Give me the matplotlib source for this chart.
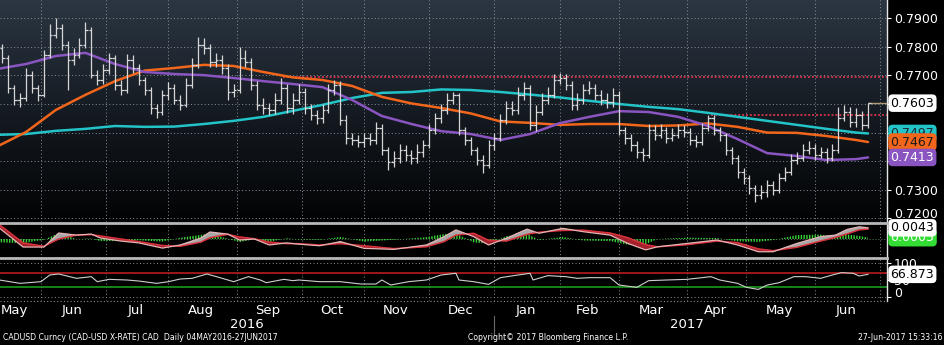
import numpy as np
import pandas as pd
import matplotlib
matplotlib.use("Agg")
import matplotlib.pyplot as plt
from matplotlib.collections import LineCollection
from matplotlib.colors import LinearSegmentedColormap

# x axis runs in weekday sessions, session 0 = 12 May 2016
SESSION0 = "2016-05-12"

# two-session OHLC bars (CAD-USD)
first_open = 0.7780
closes = [
    0.7796, 0.7761, 0.7656, 0.7614, 0.7621, 0.7702, 0.7656, 0.7632, 0.7772, 0.7842,
    0.7866, 0.7807, 0.7754, 0.7772, 0.7807, 0.7859, 0.7702, 0.7684, 0.7719, 0.7761,
    0.7667, 0.7649, 0.7754, 0.7726, 0.7684, 0.7649, 0.7586, 0.7572, 0.7632, 0.7656,
    0.7614, 0.7597, 0.7667, 0.7737, 0.7807, 0.7796, 0.7747, 0.7754, 0.7726, 0.7642,
    0.7649, 0.7761, 0.7747, 0.7667, 0.7597, 0.7586, 0.7579, 0.7614, 0.7656, 0.7586,
    0.7614, 0.7642, 0.7586, 0.7562, 0.7551, 0.7579, 0.7649, 0.7667, 0.7544, 0.7481,
    0.7474, 0.7467, 0.7481, 0.7474, 0.7516, 0.7439, 0.7397, 0.7411, 0.7439, 0.7422,
    0.7411, 0.7432, 0.7457, 0.7509, 0.7551, 0.7579, 0.7614, 0.7632, 0.7509, 0.7474,
    0.7439, 0.7404, 0.7387, 0.7457, 0.7481, 0.7544, 0.7586, 0.7579, 0.7632, 0.7656,
    0.7527, 0.7572, 0.7614, 0.7632, 0.7684, 0.7691, 0.7667, 0.7597, 0.7614, 0.7649,
    0.7656, 0.7632, 0.7614, 0.7607, 0.7632, 0.7509, 0.7481, 0.7457, 0.7432, 0.7422,
    0.7509, 0.7492, 0.7509, 0.7481, 0.7492, 0.7509, 0.7502, 0.7474, 0.7467, 0.7516,
    0.7551, 0.7509, 0.7492, 0.7439, 0.7411, 0.7362, 0.7341, 0.7306, 0.7282, 0.7292,
    0.7317, 0.7299, 0.7341, 0.7362, 0.7404, 0.7411, 0.7439, 0.7446, 0.7422, 0.7432,
    0.7411, 0.7439, 0.7551, 0.7572, 0.7537, 0.7562, 0.7527, 0.7603,
]
highs = [
    0.7824, 0.7810, 0.7772, 0.7668, 0.7640, 0.7726, 0.7715, 0.7668, 0.7790, 0.7880,
    0.7901, 0.7880, 0.7820, 0.7795, 0.7830, 0.7887, 0.7870, 0.7720, 0.7740, 0.7780,
    0.7772, 0.7685, 0.7775, 0.7770, 0.7740, 0.7695, 0.7660, 0.7600, 0.7650, 0.7678,
    0.7670, 0.7630, 0.7690, 0.7760, 0.7834, 0.7830, 0.7810, 0.7780, 0.7770, 0.7740,
    0.7670, 0.7800, 0.7790, 0.7760, 0.7680, 0.7620, 0.7605, 0.7640, 0.7690, 0.7670,
    0.7640, 0.7670, 0.7655, 0.7600, 0.7580, 0.7600, 0.7670, 0.7685, 0.7680, 0.7560,
    0.7500, 0.7490, 0.7500, 0.7500, 0.7537, 0.7530, 0.7450, 0.7435, 0.7460, 0.7455,
    0.7440, 0.7460, 0.7475, 0.7530, 0.7570, 0.7600, 0.7640, 0.7642, 0.7640, 0.7520,
    0.7485, 0.7450, 0.7420, 0.7475, 0.7500, 0.7565, 0.7610, 0.7610, 0.7660, 0.7677,
    0.7665, 0.7595, 0.7640, 0.7660, 0.7705, 0.7709, 0.7705, 0.7680, 0.7640, 0.7670,
    0.7680, 0.7670, 0.7650, 0.7640, 0.7655, 0.7645, 0.7520, 0.7495, 0.7470, 0.7445,
    0.7530, 0.7525, 0.7530, 0.7520, 0.7515, 0.7530, 0.7525, 0.7515, 0.7490, 0.7535,
    0.7562, 0.7560, 0.7520, 0.7500, 0.7450, 0.7420, 0.7375, 0.7350, 0.7315, 0.7315,
    0.7335, 0.7330, 0.7360, 0.7380, 0.7425, 0.7432, 0.7460, 0.7470, 0.7460, 0.7450,
    0.7445, 0.7460, 0.7590, 0.7595, 0.7590, 0.7585, 0.7575, 0.7603,
]
lows = [
    0.7760, 0.7745, 0.7640, 0.7596, 0.7590, 0.7610, 0.7640, 0.7612, 0.7625, 0.7760,
    0.7830, 0.7790, 0.7649, 0.7735, 0.7760, 0.7795, 0.7690, 0.7665, 0.7670, 0.7705,
    0.7650, 0.7630, 0.7640, 0.7710, 0.7665, 0.7630, 0.7565, 0.7551, 0.7560, 0.7615,
    0.7600, 0.7579, 0.7590, 0.7655, 0.7725, 0.7775, 0.7730, 0.7730, 0.7705, 0.7614,
    0.7625, 0.7640, 0.7730, 0.7650, 0.7580, 0.7565, 0.7560, 0.7565, 0.7600, 0.7570,
    0.7565, 0.7600, 0.7565, 0.7545, 0.7530, 0.7535, 0.7570, 0.7630, 0.7525, 0.7460,
    0.7455, 0.7448, 0.7450, 0.7455, 0.7460, 0.7420, 0.7369, 0.7380, 0.7395, 0.7400,
    0.7390, 0.7395, 0.7415, 0.7445, 0.7495, 0.7535, 0.7565, 0.7600, 0.7490, 0.7455,
    0.7420, 0.7385, 0.7359, 0.7375, 0.7440, 0.7470, 0.7530, 0.7560, 0.7565, 0.7615,
    0.7510, 0.7505, 0.7560, 0.7600, 0.7620, 0.7670, 0.7650, 0.7580, 0.7580, 0.7600,
    0.7635, 0.7615, 0.7595, 0.7585, 0.7590, 0.7490, 0.7460, 0.7435, 0.7410, 0.7400,
    0.7410, 0.7475, 0.7480, 0.7465, 0.7470, 0.7480, 0.7485, 0.7455, 0.7450, 0.7455,
    0.7505, 0.7490, 0.7470, 0.7420, 0.7390, 0.7340, 0.7320, 0.7285, 0.7257, 0.7268,
    0.7275, 0.7280, 0.7290, 0.7330, 0.7350, 0.7390, 0.7400, 0.7425, 0.7405, 0.7410,
    0.7395, 0.7400, 0.7430, 0.7540, 0.7520, 0.7520, 0.7510, 0.7515,
]

# moving averages, sampled every 10 sessions
ma_days = list(range(-1, 290, 10)) + [293]
ma50 = [0.7722, 0.7740, 0.7768, 0.7779, 0.7740, 0.7712, 0.7705, 0.7701, 0.7691, 0.7680,
        0.7670, 0.7659, 0.7614, 0.7558, 0.7530, 0.7505, 0.7495, 0.7474, 0.7495, 0.7533,
        0.7555, 0.7575, 0.7572, 0.7555, 0.7523, 0.7477, 0.7428, 0.7418, 0.7404, 0.7407,
        0.7413]
ma100 = [0.7450, 0.7502, 0.7579, 0.7632, 0.7680, 0.7717, 0.7726, 0.7737, 0.7733, 0.7712,
         0.7693, 0.7684, 0.7663, 0.7625, 0.7602, 0.7586, 0.7567, 0.7539, 0.7534, 0.7527,
         0.7530, 0.7530, 0.7523, 0.7525, 0.7532, 0.7520, 0.7500, 0.7499, 0.7488, 0.7474,
         0.7467]
ma200 = [0.7492, 0.7495, 0.7506, 0.7513, 0.7523, 0.7520, 0.7521, 0.7530, 0.7541, 0.7555,
         0.7576, 0.7597, 0.7621, 0.7639, 0.7642, 0.7651, 0.7649, 0.7642, 0.7633, 0.7623,
         0.7611, 0.7600, 0.7590, 0.7582, 0.7569, 0.7555, 0.7541, 0.7527, 0.7513, 0.7500,
         0.7497]

# MACD and signal
macd_days = [0, 8, 15, 20, 26, 31, 34, 41, 47, 55, 61, 68, 71, 77, 81, 86, 91, 97, 101, 108,
             115, 123, 133, 144, 150, 154, 160, 165, 171, 178, 182, 190, 197, 206, 212, 218,
             222, 232, 242, 249, 256, 261, 269, 277, 282, 286, 290, 293]
macd = [0.0042, -0.0031, -0.0031, 0.0023, 0.0015, 0.0019, 0.0004, -0.0008, -0.0015, -0.0035,
        -0.0023, 0.0004, 0.0027, 0.0019, -0.0004, 0.0000, -0.0023, -0.0015, -0.0020, -0.0026,
        -0.0010, -0.0036, -0.0040, -0.0023, 0.0009, 0.0035, 0.0009, -0.0023, 0.0003, 0.0038,
        0.0022, 0.0041, 0.0028, 0.0015, -0.0017, -0.0042, -0.0030, -0.0017, -0.0004, -0.0023,
        -0.0049, -0.0049, -0.0017, 0.0009, 0.0015, 0.0037, 0.0047, 0.0043]
signal = [0.0055, -0.0015, -0.0028, 0.0000, 0.0015, 0.0017, 0.0012, 0.0000, -0.0010, -0.0025,
          -0.0028, -0.0012, 0.0005, 0.0018, 0.0008, 0.0001, -0.0012, -0.0018, -0.0018, -0.0023,
          -0.0018, -0.0026, -0.0037, -0.0030, -0.0010, 0.0015, 0.0022, -0.0005, -0.0008, 0.0018,
          0.0026, 0.0033, 0.0034, 0.0023, 0.0005, -0.0022, -0.0030, -0.0022, -0.0008, -0.0014,
          -0.0038, -0.0045, -0.0032, -0.0008, 0.0006, 0.0020, 0.0035, 0.0038]

# RSI
rsi_days = [0, 7, 14, 17, 20, 26, 31, 33, 37, 43, 47, 53, 57, 61, 65, 70, 74, 79, 84, 88,
            90, 96, 99, 101, 108, 115, 122, 127, 129, 132, 138, 144, 149, 154, 155, 160, 165,
            169, 175, 179, 180, 185, 191, 195, 199, 206, 209, 215, 219, 225, 232, 240, 243,
            249, 252, 256, 259, 263, 268, 272, 277, 281, 284, 288, 290, 293]
rsi = [50, 40, 45, 65, 68, 55, 60, 45, 52, 50, 47, 40, 45, 53, 55, 68, 58, 45, 60, 50,
       42, 52, 48, 50, 45, 45, 38, 38, 50, 35, 45, 50, 65, 70, 50, 45, 37, 57, 65, 70,
       50, 63, 60, 55, 57, 57, 35, 28, 48, 50, 52, 60, 50, 40, 28, 22, 35, 42, 60, 60,
       55, 65, 72, 70, 62, 66.873]

last_price = 0.7603
# (start session, level) of the dotted red reference lines
levels = [(95.6, 0.7693), (240, 0.7562)]

W, H = 944, 345
XLIM = (0.2, 299.4)

C_PURPLE = "#8a55c0"
C_ORANGE = "#f2661b"
C_CYAN = "#22c4c8"
C_GRID = "#8a9098"


def rect(x0, y0, x1, y1):
    return [x0 / W, 1 - y1 / H, (x1 - x0) / W, (y1 - y0) / H]


# weekday calendar for month boundaries
cal = pd.bdate_range("2016-05-02", "2017-07-31")
origin = cal.get_loc(pd.Timestamp(SESSION0))
months = pd.date_range("2016-05-01", "2017-07-01", freq="MS")
month_pos = [int(np.searchsorted(cal, m)) - origin for m in months]

fig = plt.figure(figsize=(W / 100, H / 100), dpi=100)
fig.patch.set_facecolor("black")

ax = fig.add_axes(rect(0, 0, 887, 221.5))
ax_m = fig.add_axes(rect(0, 223.3, 887, 257.5), sharex=ax)
ax_r = fig.add_axes(rect(0, 257.5, 887, 301), sharex=ax)

YLIM = (0.71888, 0.7964)
MLIM = (-0.00712, 0.00604)
RLIM = (-12.7, 117.2)

for a in (ax, ax_m, ax_r):
    a.set_facecolor("black")
    for s in ("top", "left", "bottom"):
        a.spines[s].set_visible(False)
    a.spines["right"].set_color("#e6e6e6")
    a.spines["right"].set_linewidth(1.0)
    a.yaxis.tick_right()
    a.tick_params(axis="y", colors="white", labelcolor="white", labelsize=9,
                  length=3, width=0.8, pad=2, direction="out")
    a.tick_params(axis="x", bottom=False, labelbottom=False)
    for mp in month_pos[1:]:
        a.axvline(mp, color=C_GRID, lw=0.7, ls=(0, (1, 2.5)), zorder=1)

# main panel: dark slate gradient
cmap = LinearSegmentedColormap.from_list("bg", ["#2b3642", "#151b22", "#020304"])
grad = np.linspace(0, 1, 256).reshape(-1, 1)
ax.imshow(grad, cmap=cmap, extent=[XLIM[0], XLIM[1], YLIM[0], YLIM[1]],
          aspect="auto", origin="upper", zorder=0)

for lvl in np.arange(0.72, 0.7901, 0.01):
    ax.axhline(lvl, color=C_GRID, lw=0.7, ls=(0, (1, 2.5)), zorder=1)

for start, lvl in levels:
    ax.hlines(lvl, start, XLIM[1], color="#c8324a", lw=1.4, ls=(0, (1, 1)), zorder=2)

# OHLC bars
n = len(closes)
bx = np.arange(n) * 2 - 1
opens = [first_open] + closes[:-1]
segs = []
for x, o, h, l, c in zip(bx, opens, highs, lows, closes):
    segs.append([(x, l), (x, h)])
    segs.append([(x - 0.9, o), (x, o)])
    segs.append([(x, c), (x + 0.9, c)])
ax.add_collection(LineCollection(segs, colors="#d6d6d6", linewidths=0.9, zorder=4))

for vals, col in ((ma200, C_CYAN), (ma100, C_ORANGE), (ma50, C_PURPLE)):
    ax.plot(ma_days, vals, color=col, lw=1.8, zorder=3,
            solid_joinstyle="round", solid_capstyle="round")

ax.hlines(last_price, bx[-1], XLIM[1], color="#b09a78", lw=1.0, zorder=3)

ax.set_xlim(*XLIM)
ax.set_ylim(*YLIM)
yt = np.round(np.arange(0.72, 0.7901, 0.01), 2)
ax.set_yticks(yt)
# labels at 0.74-0.76 sit behind the value tags, so only their ticks are drawn
ax.set_yticklabels(["" if 0.735 < v < 0.765 else f"{v:.4f}" for v in yt])
ax.get_yticklabels()[0].set_verticalalignment("baseline")


def tag(a, y, text, face, fg):
    a.text(1.004, y, text, transform=a.get_yaxis_transform(), ha="left", va="center",
           fontsize=9, color=fg, clip_on=False, zorder=10,
           bbox=dict(boxstyle="round,pad=0.18,rounding_size=0.35", fc=face, ec="none"))


tag(ax, last_price, f"{last_price:.4f}", "white", "black")
tag(ax, ma200[-1], f"{ma200[-1]:.4f}", C_CYAN, "#1b2a33")
tag(ax, ma100[-1], f"{ma100[-1]:.4f}", C_ORANGE, "#1a1a1a")
tag(ax, ma50[-1], f"{ma50[-1]:.4f}", C_PURPLE, "white")

# MACD panel
md = np.array(macd_days, dtype=float)
mv = np.array(macd)
sv = np.array(signal)
hist = mv - sv
ax_m.axhline(0, color="#5a7a5a", lw=0.7, ls=(0, (1, 2)), zorder=1)
ax_m.fill_between(md, 0, hist, facecolor="none", edgecolor="#37d437", hatch="||||||",
                  linewidth=0, zorder=2)
ax_m.fill_between(md, mv, sv, where=mv >= sv, interpolate=True, color="#a8a8a8", lw=0, zorder=3)
ax_m.fill_between(md, mv, sv, where=mv < sv, interpolate=True, color="#a3202c", lw=0, zorder=3)
ax_m.plot(md, sv, color="#d8323c", lw=1.1, zorder=4)
ax_m.plot(md, mv, color="#e4b4b4", lw=0.9, zorder=4)
ax_m.set_ylim(*MLIM)
ax_m.set_yticks([])
tag(ax_m, hist[-1], f"{hist[-1]:.4f}", "#33dd33", "white")
tag(ax_m, mv[-1], f"{mv[-1]:.4f}", "white", "black")

# RSI panel
ax_r.axhline(70, color="#b81c1c", lw=1.2, zorder=2)
ax_r.axhline(30, color="#1e9a1e", lw=1.2, zorder=2)
for lvl in (0, 100):
    ax_r.axhline(lvl, color=C_GRID, lw=0.7, ls=(0, (1, 2.5)), zorder=1)
ax_r.plot(rsi_days, rsi, color="#cfcfcf", lw=0.8, zorder=3)
ax_r.set_ylim(*RLIM)
ax_r.set_yticks([0, 50, 100])
ax_r.set_yticklabels(["0", "50", "100"])
ax_r.get_yticklabels()[0].set_verticalalignment("baseline")
tag(ax_r, rsi[-1], f"{rsi[-1]:.3f}", "white", "black")

# separators between panels
for yy in (223.3, 257.5):
    fig.add_artist(plt.Line2D([0, 887 / W], [1 - yy / H] * 2, color="#b8b8b8", lw=2.0))
fig.add_artist(plt.Line2D([0, 887 / W], [1 - 301 / H] * 2, color=C_GRID, lw=0.8,
                          ls=(0, (1, 2))))

# month and year labels
tr = ax_r.get_xaxis_transform()
for i, m in enumerate(months[:-1]):
    c = (month_pos[i] + month_pos[i + 1]) / 2 - 0.5
    c = max(c, XLIM[0] + 5)
    ax_r.text(c, -0.21, m.strftime("%b"), transform=tr, ha="center", va="center",
              color="white", fontsize=9.5, clip_on=False)
jan = month_pos[months.get_loc(pd.Timestamp("2017-01-01"))]
jul = month_pos[-1]
ax_r.text((XLIM[0] + jan) / 2, -0.55, "2016", transform=tr, ha="center", va="center",
          color="white", fontsize=9.5, clip_on=False)
ax_r.text((jan + jul) / 2, -0.55, "2017", transform=tr, ha="center", va="center",
          color="white", fontsize=9.5, clip_on=False)
ax_r.plot([jan, jan], [-0.35, -0.78], transform=tr, color="#6a6a6a", lw=0.8, clip_on=False)

# footer
fy = 1 - 338 / H
fig.text(3 / W, fy, "CADUSD Curncy (CAD-USD X-RATE) CAD  Daily 04MAY2016-27JUN2017",
         color="white", fontsize=5.6, ha="left", va="center")
fig.text(628 / W, fy, "Copyright\u00a9 2017 Bloomberg Finance L.P.", color="white",
         fontsize=5.6, ha="right", va="center")
fig.text(942 / W, fy, "27-Jun-2017 15:33:16", color="white", fontsize=5.6,
         ha="right", va="center")

fig.savefig("out.png", dpi=100, facecolor=fig.get_facecolor())
